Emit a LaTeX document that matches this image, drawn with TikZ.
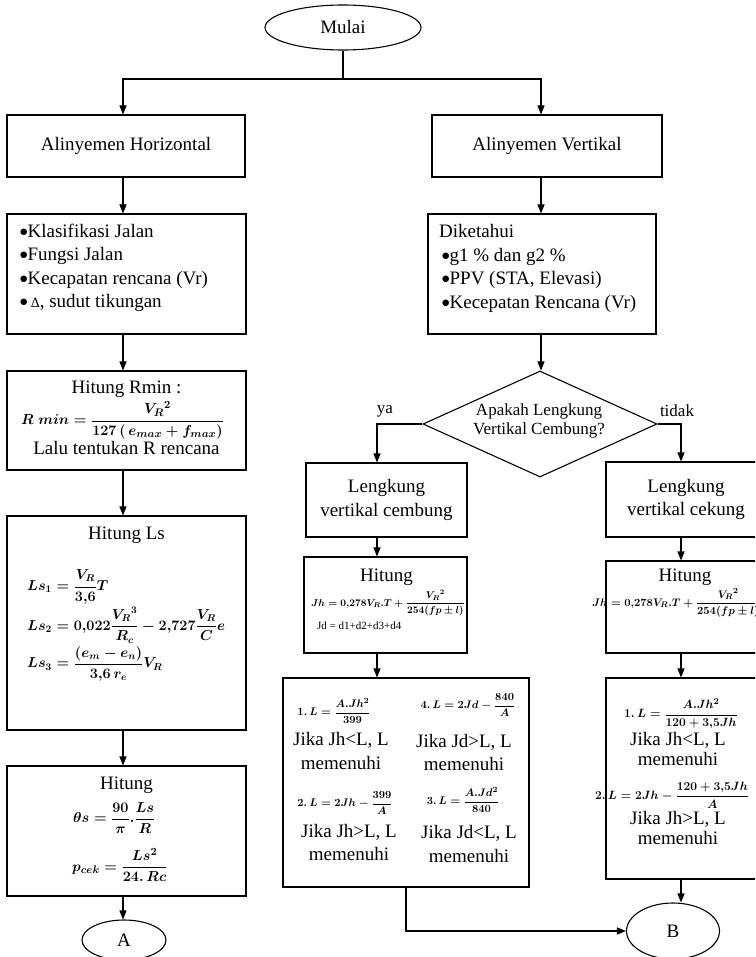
\documentclass[tikz,border=0pt]{standalone}
\usepackage{amsmath}
\usepackage{fontspec}
\setmainfont{Liberation Serif}
\newfontfamily\symbolfont{DejaVu Sans}
\newcommand{\bul}{\raisebox{3pt}{\symbolfont\fontsize{8.5}{9}\selectfont ●}}
\usetikzlibrary{shapes.geometric,arrows.meta}

\begin{document}
\begin{tikzpicture}[x=1pt,y=-1pt]
\tikzset{
  rbox/.style={draw, line width=1.1pt, inner sep=0pt},
  oval/.style={draw, ellipse, line width=1.1pt, inner sep=0pt},
  body/.style={font=\fontsize{19}{23.5}\selectfont, inner sep=0pt},
  small/.style={font=\fontsize{17}{19.5}\selectfont, inner sep=0pt},
  eqn/.style={font=\fontsize{#1}{#1}\selectfont\boldmath, inner sep=0pt},
  flow/.style={line width=1.1pt, -{Triangle[length=9pt,width=7pt]}},
  link/.style={line width=1.1pt},
}
\useasboundingbox (0,0) rectangle (755,957);
\clip (0,0) rectangle (755,957);

% guide columns for the vertical connectors
\coordinate (colL) at (123,0);
\coordinate (colV) at (541,0);
\coordinate (colC) at (377,0);
\coordinate (colR) at (681,0);
\coordinate (split) at (343,79);

% ---------- start ----------
\node[oval, minimum width=156, minimum height=45, body] (mulai) at (343,27.5) {Mulai};

\node[rbox, minimum width=238, minimum height=62, body] (ah) at (126,146) {Alinyemen Horizontal};
\node[rbox, minimum width=230, minimum height=62, body] (av) at (547,146) {Alinyemen Vertikal};

% ---------- horizontal alignment column ----------
\node[rbox, minimum width=239, minimum height=120] (klas) at (126.5,274) {};
\node[body, anchor=west, align=left] (klasT) at (20,268) {%
\bul Klasifikasi Jalan\\
\bul Fungsi Jalan\\
\bul Kecapatan rencana (Vr)\\
\bul\,{\fontsize{14}{14}\selectfont Δ}, sudut tikungan};

\node[rbox, minimum width=239, minimum height=99] (rmin) at (126.5,420.5) {};
\node[body] (rminT) at (126.5,389) {Hitung Rmin :};
\node[eqn=15] (rminF) at (122.5,420) {$R\;min=\dfrac{{V_R}^2}{127\,(\,e_{max}+f_{max})}$};
\node[body] (rminL) at (126.5,448) {Lalu tentukan R rencana};

\node[rbox, minimum width=239, minimum height=214] (ls) at (126.5,623) {};
\node[body] (lsT) at (126.5,535) {Hitung Ls};
\node[eqn=14, anchor=west] (ls1) at (27,587) {$Ls_1=\dfrac{V_R}{3{,}6}T$};
\node[eqn=14, anchor=west] (ls2) at (27,625) {$Ls_2=0{,}022\dfrac{{V_R}^3}{R_c}-2{,}727\dfrac{V_R}{C}e$};
\node[eqn=14, anchor=west] (ls3) at (27,664) {$Ls_3=\dfrac{(e_m-e_n)}{3{,}6\,r_e}V_R$};

\node[rbox, minimum width=239, minimum height=130] (hit) at (126.5,831) {};
\node[body] (hitT) at (126.5,785) {Hitung};
\node[eqn=15, anchor=west] (theta) at (73,818) {$\theta s=\dfrac{90}{\pi}.\dfrac{Ls}{R}$};
\node[eqn=15, anchor=west] (pcek) at (72,865) {$p_{cek}=\dfrac{Ls^2}{24.\,Rc}$};

\node[oval, minimum width=84, minimum height=40, body] (A) at (124,940) {A};

% ---------- vertical alignment column ----------
\node[rbox, minimum width=228, minimum height=120] (dik) at (542,274) {};
\node[body, anchor=west, align=left] (dikT) at (439,268.5) {%
Diketahui\\
\hspace*{3pt}\bul g1 \% dan g2 \%\\
\hspace*{3pt}\bul PPV (STA, Elevasi)\\
\hspace*{3pt}\bul Kecepatan Rencana (Vr)};

\node[draw, diamond, line width=1.1pt, minimum width=234, minimum height=106, inner sep=0pt] (dia) at (540,424) {};
\node[small, align=center] (diaT) at (539,421) {Apakah Lengkung\\Vertikal Cembung?};
\node[small] (ya) at (385,411) {ya};
\node[small] (tidak) at (677,411) {tidak};

% convex branch
\node[rbox, minimum width=161, minimum height=74, body, align=center] (cem) at (386.5,500) {Lengkung\\vertikal cembung};
\node[rbox, minimum width=163, minimum height=96] (cemH) at (385.5,605) {};
\node[body] (cemHT) at (386.5,577) {Hitung};
\node[eqn=10] (cemJh) at (388,603) {$Jh=0{,}278V_R.T+\dfrac{{V_R}^2}{254(fp\pm l)}$};
\node[font=\fontsize{11}{11}\selectfont, inner sep=0pt, anchor=west] (cemJd) at (317,626) {Jd = d1+d2+d3+d4};

\node[rbox, minimum width=246, minimum height=209] (cemB) at (406,782.5) {};
\node[eqn=11] (c1) at (334,711) {$1.\,L=\dfrac{A.Jh^2}{399}$};
\node[body, align=center] (c1t) at (341,751) {Jika Jh<L, L\\memenuhi};
\node[eqn=11] (c4) at (468,705) {$4.\,L=2Jd-\dfrac{840}{A}$};
\node[body, align=center] (c4t) at (464,752.5) {Jika Jd>L, L\\memenuhi};
\node[eqn=11] (c2) at (345,803) {$2.\,L=2Jh-\dfrac{399}{A}$};
\node[body, align=center] (c2t) at (349,842.5) {Jika Jh>L, L\\memenuhi};
\node[eqn=11] (c3) at (463,800) {$3.\,L=\dfrac{A.Jd^2}{840}$};
\node[body, align=center] (c3t) at (469,844) {Jika Jd<L, L\\memenuhi};

% concave branch
\node[rbox, minimum width=160, minimum height=75, body, align=center] (cek) at (686,499.5) {Lengkung\\vertikal cekung};
\node[rbox, minimum width=160, minimum height=92] (cekH) at (686,607) {};
\node[body] (cekHT) at (685,577) {Hitung};
\node[eqn=10.8, anchor=west] (cekJh) at (592,603) {$Jh=0{,}278V_R.T+\dfrac{{V_R}^2}{254(fp\pm l)}$};

\node[rbox, minimum width=160, minimum height=201] (cekB) at (686,778.5) {};
\node[eqn=13] (k1) at (681,714) {$1.\,L=\dfrac{A.Jh^2}{120+3{,}5Jh}$};
\node[body, align=center, font=\fontsize{19}{19.5}\selectfont] (k1t) at (678,749) {Jika Jh<L, L\\memenuhi};
\node[eqn=11.5] (k2) at (672,795) {$2.\,L=2Jh-\dfrac{120+3{,}5Jh}{A}$};
\node[body, align=center, font=\fontsize{19}{19.5}\selectfont] (k2t) at (678,828) {Jika Jh>L, L\\memenuhi};

\node[oval, minimum width=93, minimum height=56, body] (B) at (673,931) {B};

% ---------- connectors ----------
\draw[link] (mulai.south) -- (split);
\draw[flow] (split) -| (ah.north -| colL);
\draw[flow] (split) -| (av.north -| colV);

\draw[flow] (ah.south -| colL) -- (klas.north -| colL);
\draw[flow] (klas.south -| colL) -- (rmin.north -| colL);
\draw[flow] (rmin.south -| colL) -- (ls.north -| colL);
\draw[flow] (ls.south -| colL) -- (hit.north -| colL);
\draw[flow] (hit.south -| colL) -- (A.north -| colL);

\draw[flow] (av.south -| colV) -- (dik.north -| colV);
\draw[flow] (dik.south -| colV) -- (dia.north -| colV);

\draw[flow] (dia.west) -| (cem.north -| colC);
\draw[flow] (dia.east) -| (cek.north -| colR);
\draw[flow] (cem.south -| colC) -- (cemH.north -| colC);
\draw[flow] (cemH.south -| colC) -- (cemB.north -| colC);
\draw[flow] (cek.south -| colR) -- (cekH.north -| colR);
\draw[flow] (cekH.south -| colR) -- (cekB.north -| colR);
\draw[flow] (cekB.south -| colR) -- (B.north -| colR);
\draw[flow] (cemB.south) |- (B.west);
\end{tikzpicture}
\end{document}
